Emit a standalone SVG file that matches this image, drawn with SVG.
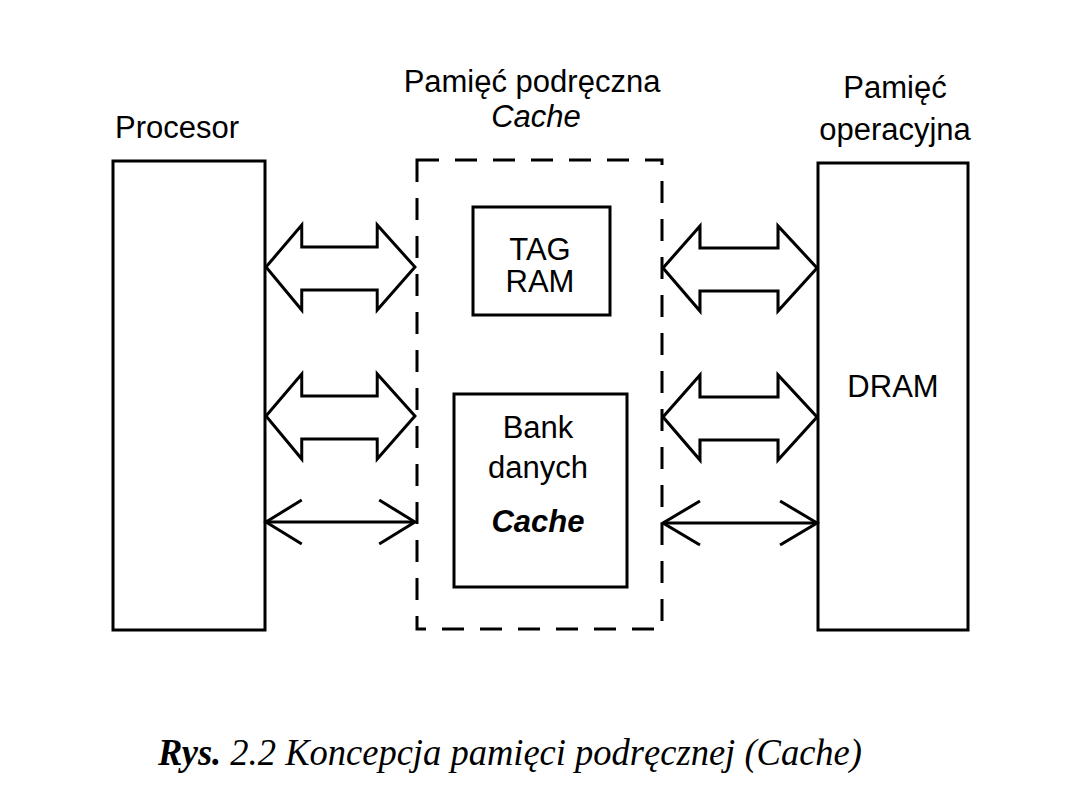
<svg xmlns="http://www.w3.org/2000/svg" xmlns:xlink="http://www.w3.org/1999/xlink" width="1080" height="810" viewBox="0 0 1080 810">
<style>
.box{fill:#fff;stroke:#000;stroke-width:3}
.dash{fill:none;stroke:#000;stroke-width:3;stroke-dasharray:22 16}
.arr{fill:#fff;stroke:#000;stroke-width:3;stroke-linejoin:miter}
.thin{fill:none;stroke:#000;stroke-width:3}
.t{font-family:"Liberation Sans",Arial,sans-serif;font-size:31px;fill:#000;text-anchor:middle}
.cap{font-family:"Liberation Serif","Times New Roman",serif;font-size:38px;font-style:italic;fill:#000}
</style>
<defs>
<path id="big" d="M0,0 L36,-42 L36,-20 L112,-20 L112,-42 L150,0 L112,43 L112,23 L36,23 L36,43 Z"/>
<g id="thinArrow">
<line x1="0" y1="0" x2="150" y2="0"/>
<polyline points="36,-22 0,0 36,22"/>
<polyline points="114,-22 150,0 114,22"/>
</g>
</defs>
<rect width="1080" height="810" fill="#fff"/>
<g id="procesor">
<rect class="box" x="113" y="161" width="152" height="469"/>
<text class="t" x="177" y="138">Procesor</text>
</g>
<g id="cache">
<rect class="dash" x="417" y="160" width="245" height="469"/>
<text class="t" x="532" y="92">Pamięć podręczna</text>
<text class="t" x="536" y="127" font-style="italic">Cache</text>
</g>
<g id="tagram">
<rect class="box" x="473" y="207" width="137" height="108"/>
<text class="t" x="540" y="260">TAG</text>
<text class="t" x="540" y="292">RAM</text>
</g>
<g id="bank">
<rect class="box" x="454" y="394" width="173" height="193"/>
<text class="t" x="538" y="438">Bank</text>
<text class="t" x="538" y="478">danych</text>
<text class="t" x="538" y="532" font-style="italic" font-weight="bold">Cache</text>
</g>
<g id="dram">
<rect class="box" x="818" y="163" width="150" height="467"/>
<text class="t" x="895" y="98">Pamięć</text>
<text class="t" x="895" y="140">operacyjna</text>
<text class="t" x="893" y="397" font-size="33">DRAM</text>
</g>
<g id="connectors">
<use xlink:href="#big" class="arr" transform="translate(266,267) scale(0.993,1)"/>
<use xlink:href="#big" class="arr" transform="translate(266,416) scale(0.993,1)"/>
<use xlink:href="#big" class="arr" transform="translate(663,268) scale(1.027,1)"/>
<use xlink:href="#big" class="arr" transform="translate(663,417) scale(1.027,1)"/>
<use xlink:href="#thinArrow" class="thin" transform="translate(266,522) scale(0.993,1)"/>
<use xlink:href="#thinArrow" class="thin" transform="translate(663,523) scale(1.027,1)"/>
</g>
<g id="caption">
<text class="cap" x="158" y="765" textLength="704" lengthAdjust="spacingAndGlyphs"><tspan font-weight="bold">Rys.</tspan> 2.2 Koncepcja pamięci podręcznej (Cache)</text>
</g>
</svg>
